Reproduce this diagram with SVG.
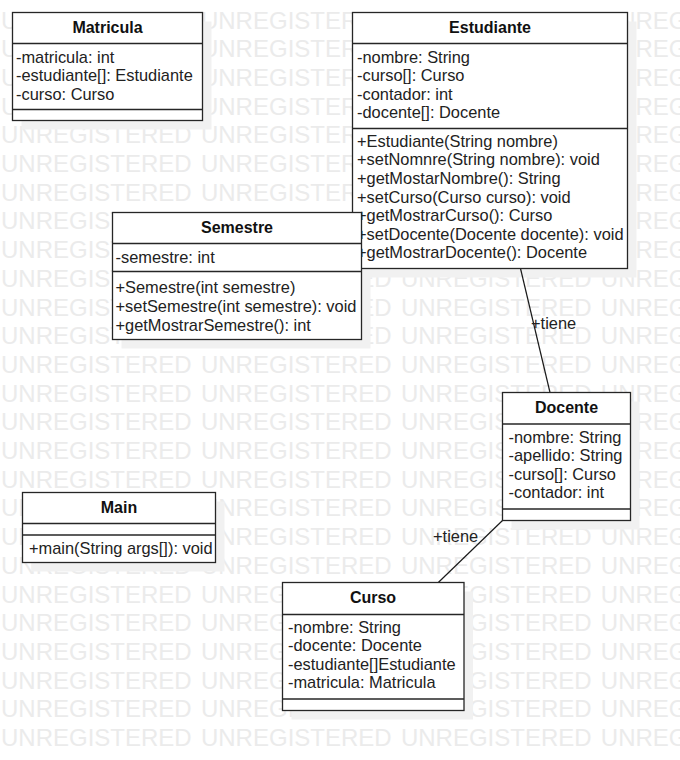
<svg xmlns="http://www.w3.org/2000/svg" width="680" height="760" viewBox="0 0 680 760">
<style>
  .wm { font-family: "Liberation Sans", Arial, sans-serif; font-size: 24px; fill: #ebebeb; word-spacing: 2.6px; }
  .shadow { fill: #f1f1f1; stroke: none; }
  .box { fill: #ffffff; stroke: #262626; stroke-width: 1.3; }
  .sep { stroke: #262626; stroke-width: 1.3; fill: none; }
  .title { font-family: "Liberation Sans", Arial, sans-serif; font-size: 16px; font-weight: bold; fill: #111; text-anchor: middle; }
  .txt { font-family: "Liberation Sans", Arial, sans-serif; font-size: 16.4px; fill: #222; }
  .conn { stroke: #1a1a1a; stroke-width: 1.2; fill: none; }
</style>
<rect x="0" y="0" width="680" height="760" fill="#ffffff"/>
<g id="watermark">
  <text class="wm" x="1" y="28.5">UNREGISTERED UNREGISTERED UNREGISTERED UNREGISTERED</text>
  <text class="wm" x="1" y="57.2">UNREGISTERED UNREGISTERED UNREGISTERED UNREGISTERED</text>
  <text class="wm" x="1" y="85.9">UNREGISTERED UNREGISTERED UNREGISTERED UNREGISTERED</text>
  <text class="wm" x="1" y="114.6">UNREGISTERED UNREGISTERED UNREGISTERED UNREGISTERED</text>
  <text class="wm" x="1" y="143.3">UNREGISTERED UNREGISTERED UNREGISTERED UNREGISTERED</text>
  <text class="wm" x="1" y="172">UNREGISTERED UNREGISTERED UNREGISTERED UNREGISTERED</text>
  <text class="wm" x="1" y="200.7">UNREGISTERED UNREGISTERED UNREGISTERED UNREGISTERED</text>
  <text class="wm" x="1" y="229.4">UNREGISTERED UNREGISTERED UNREGISTERED UNREGISTERED</text>
  <text class="wm" x="1" y="258.1">UNREGISTERED UNREGISTERED UNREGISTERED UNREGISTERED</text>
  <text class="wm" x="1" y="286.8">UNREGISTERED UNREGISTERED UNREGISTERED UNREGISTERED</text>
  <text class="wm" x="1" y="315.5">UNREGISTERED UNREGISTERED UNREGISTERED UNREGISTERED</text>
  <text class="wm" x="1" y="344.2">UNREGISTERED UNREGISTERED UNREGISTERED UNREGISTERED</text>
  <text class="wm" x="1" y="372.9">UNREGISTERED UNREGISTERED UNREGISTERED UNREGISTERED</text>
  <text class="wm" x="1" y="401.6">UNREGISTERED UNREGISTERED UNREGISTERED UNREGISTERED</text>
  <text class="wm" x="1" y="430.3">UNREGISTERED UNREGISTERED UNREGISTERED UNREGISTERED</text>
  <text class="wm" x="1" y="459">UNREGISTERED UNREGISTERED UNREGISTERED UNREGISTERED</text>
  <text class="wm" x="1" y="487.7">UNREGISTERED UNREGISTERED UNREGISTERED UNREGISTERED</text>
  <text class="wm" x="1" y="516.4">UNREGISTERED UNREGISTERED UNREGISTERED UNREGISTERED</text>
  <text class="wm" x="1" y="545.1">UNREGISTERED UNREGISTERED UNREGISTERED UNREGISTERED</text>
  <text class="wm" x="1" y="573.8">UNREGISTERED UNREGISTERED UNREGISTERED UNREGISTERED</text>
  <text class="wm" x="1" y="602.5">UNREGISTERED UNREGISTERED UNREGISTERED UNREGISTERED</text>
  <text class="wm" x="1" y="631.2">UNREGISTERED UNREGISTERED UNREGISTERED UNREGISTERED</text>
  <text class="wm" x="1" y="659.9">UNREGISTERED UNREGISTERED UNREGISTERED UNREGISTERED</text>
  <text class="wm" x="1" y="688.6">UNREGISTERED UNREGISTERED UNREGISTERED UNREGISTERED</text>
  <text class="wm" x="1" y="717.3">UNREGISTERED UNREGISTERED UNREGISTERED UNREGISTERED</text>
  <text class="wm" x="1" y="746">UNREGISTERED UNREGISTERED UNREGISTERED UNREGISTERED</text>
</g>
<g id="shadows">
  <rect class="shadow" x="21.5" y="21.5" width="190" height="108"/>
  <rect class="shadow" x="361.5" y="21.5" width="275" height="256"/>
  <rect class="shadow" x="121.5" y="221.5" width="249" height="127"/>
  <rect class="shadow" x="511.5" y="401.5" width="128" height="128"/>
  <rect class="shadow" x="291.5" y="591.5" width="181.5" height="128"/>
  <rect class="shadow" x="31.5" y="501.5" width="193" height="70"/>
</g>
<g id="connectors">
  <line class="conn" x1="520.5" y1="268.5" x2="550" y2="392.5"/>
  <text class="txt" x="531" y="329">+tiene</text>
  <line class="conn" x1="502.5" y1="520.5" x2="438.3" y2="582.5"/>
  <text class="txt" x="433" y="542">+tiene</text>
</g>
<g id="Matricula">
  <rect class="box" x="12.5" y="12.5" width="190" height="108"/>
  <line class="sep" x1="12.5" y1="43.5" x2="202.5" y2="43.5"/>
  <line class="sep" x1="12.5" y1="109.5" x2="202.5" y2="109.5"/>
  <text class="title" x="107.5" y="33">Matricula</text>
  <text class="txt" x="16" y="62.5">-matricula: int</text>
  <text class="txt" x="16" y="81.1">-estudiante[]: Estudiante</text>
  <text class="txt" x="16" y="99.7">-curso: Curso</text>
</g>
<g id="Estudiante">
  <rect class="box" x="352.5" y="12.5" width="275" height="256"/>
  <line class="sep" x1="352.5" y1="43.5" x2="627.5" y2="43.5"/>
  <line class="sep" x1="352.5" y1="128.5" x2="627.5" y2="128.5"/>
  <text class="title" x="490" y="33">Estudiante</text>
  <text class="txt" x="357" y="62.5">-nombre: String</text>
  <text class="txt" x="357" y="81.1">-curso[]: Curso</text>
  <text class="txt" x="357" y="99.7">-contador: int</text>
  <text class="txt" x="357" y="118.3">-docente[]: Docente</text>
  <text class="txt" x="357" y="146.7">+Estudiante(String nombre)</text>
  <text class="txt" x="357" y="165.3">+setNomnre(String nombre): void</text>
  <text class="txt" x="357" y="183.9">+getMostarNombre(): String</text>
  <text class="txt" x="357" y="202.5">+setCurso(Curso curso): void</text>
  <text class="txt" x="357" y="221.1">+getMostrarCurso(): Curso</text>
  <text class="txt" x="357" y="239.7">+setDocente(Docente docente): void</text>
  <text class="txt" x="357" y="258.3">+getMostrarDocente(): Docente</text>
</g>
<g id="Semestre">
  <rect class="box" x="112.5" y="212.5" width="249" height="127"/>
  <line class="sep" x1="112.5" y1="243.5" x2="361.5" y2="243.5"/>
  <line class="sep" x1="112.5" y1="271.5" x2="361.5" y2="271.5"/>
  <text class="title" x="237" y="233">Semestre</text>
  <text class="txt" x="115.5" y="262.5">-semestre: int</text>
  <text class="txt" x="115.5" y="293.3">+Semestre(int semestre)</text>
  <text class="txt" x="115.5" y="311.9">+setSemestre(int semestre): void</text>
  <text class="txt" x="115.5" y="330.5">+getMostrarSemestre(): int</text>
</g>
<g id="Docente">
  <rect class="box" x="502.5" y="392.5" width="128" height="128"/>
  <line class="sep" x1="502.5" y1="424" x2="630.5" y2="424"/>
  <line class="sep" x1="502.5" y1="509" x2="630.5" y2="509"/>
  <text class="title" x="566.5" y="413">Docente</text>
  <text class="txt" x="508.5" y="442.5">-nombre: String</text>
  <text class="txt" x="508.5" y="461.1">-apellido: String</text>
  <text class="txt" x="508.5" y="479.7">-curso[]: Curso</text>
  <text class="txt" x="508.5" y="498.3">-contador: int</text>
</g>
<g id="Main">
  <rect class="box" x="22.5" y="492.5" width="193" height="70"/>
  <line class="sep" x1="22.5" y1="523.5" x2="215.5" y2="523.5"/>
  <line class="sep" x1="22.5" y1="535" x2="215.5" y2="535"/>
  <text class="title" x="119" y="513">Main</text>
  <text class="txt" x="29" y="553.5">+main(String args[]): void</text>
</g>
<g id="Curso">
  <rect class="box" x="282.5" y="582.5" width="181.5" height="128"/>
  <line class="sep" x1="282.5" y1="614.5" x2="464" y2="614.5"/>
  <line class="sep" x1="282.5" y1="699" x2="464" y2="699"/>
  <text class="title" x="373" y="603">Curso</text>
  <text class="txt" x="288" y="632.5">-nombre: String</text>
  <text class="txt" x="288" y="651.1">-docente: Docente</text>
  <text class="txt" x="288" y="669.7">-estudiante[]Estudiante</text>
  <text class="txt" x="288" y="688.3">-matricula: Matricula</text>
</g>
</svg>
